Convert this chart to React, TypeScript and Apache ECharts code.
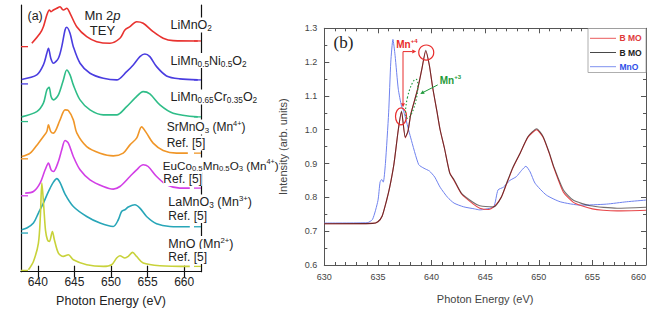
import { useEffect, useRef } from "react";
import * as echarts from "echarts";

const SANS = "'Liberation Sans', Arial, Helvetica, sans-serif";
const SERIF = "'Liberation Serif', 'Times New Roman', serif";

// ---------- Panel (a): Mn 2p TEY spectra ----------
// [photon energy (eV), intensity above the trace's own baseline]
const liMnO2: number[][] = [
  [639.18, 0.34], [640.31, 1.34], [640.76, 2.0], [641.23, 3.17], [641.58, 3.67], [641.81, 3.5],
  [642.13, 3.67], [642.59, 3.84], [643.04, 4.0], [643.31, 3.77], [643.49, 3.67], [643.95, 3.84],
  [644.4, 3.34], [645.32, 2.0], [646.68, 1.0], [648.05, 0.5], [649.86, 0.34], [651.22, 0.84],
  [651.9, 1.67], [652.59, 2.0], [653.5, 2.5], [654.4, 2.34], [655.76, 1.5], [657.13, 0.84],
  [658.49, 0.6], [661.86, 0.57],
];
const liMnNiO2: number[][] = [
  [637.79, 0.45], [639.86, 0.9], [640.76, 1.9], [641.23, 3.07], [641.45, 3.57], [641.77, 2.57],
  [642.13, 2.07], [642.81, 2.57], [643.27, 3.73], [643.72, 5.4], [643.95, 5.67], [644.4, 5.07],
  [644.85, 3.73], [645.77, 2.07], [647.13, 1.07], [648.95, 0.57], [650.77, 0.4], [652.14, 1.23],
  [653.04, 1.9], [653.95, 2.73], [654.63, 3.0], [655.31, 2.73], [656.23, 1.73], [657.59, 0.8],
  [659.4, 0.5], [661.86, 0.4],
];
const liMnCrO2: number[][] = [
  [637.79, 0.47], [639.86, 1.0], [640.76, 1.84], [641.23, 3.17], [641.54, 3.44], [641.81, 2.5],
  [642.13, 2.17], [642.81, 2.67], [643.49, 4.17], [643.95, 5.17], [644.4, 4.67], [644.85, 3.67],
  [645.77, 2.17], [647.13, 1.17], [648.95, 0.67], [650.77, 0.67], [652.14, 1.5], [653.27, 2.34],
  [654.4, 3.0], [655.31, 2.77], [656.68, 1.67], [658.49, 0.84], [661.86, 0.47],
];
const srMnO3: number[][] = [
  [637.79, 0.23], [638.95, 0.57], [640.08, 1.57], [640.76, 2.23], [641.23, 2.73], [641.45, 3.4],
  [641.77, 2.73], [642.13, 2.57], [643.04, 3.9], [643.72, 4.9], [644.17, 4.83], [644.85, 3.9],
  [645.32, 2.6], [646.68, 1.23], [648.5, 0.57], [650.31, 0.3], [651.67, 0.57], [652.59, 1.4],
  [653.5, 2.07], [654.18, 3.2], [654.86, 2.57], [655.76, 1.57], [657.13, 0.83], [658.95, 0.57],
  [660.5, 0.57],
];
const euCoMnO3: number[][] = [
  [638.27, 0.27], [639.4, 0.43], [640.31, 1.27], [641.0, 2.6], [641.45, 3.27], [641.81, 2.6],
  [642.13, 2.43], [642.81, 3.43], [643.27, 4.6], [643.72, 5.53], [644.17, 5.27], [644.85, 3.93],
  [645.77, 2.6], [647.13, 1.6], [648.95, 0.93], [650.31, 0.67], [651.22, 0.93], [652.59, 1.93],
  [653.5, 2.6], [654.4, 3.1], [655.08, 2.93], [656.23, 1.93], [657.59, 1.1], [659.4, 0.77],
  [660.77, 0.77],
];
const laMnO3: number[][] = [
  [637.79, 0.33], [638.5, 0.5], [639.4, 1.0], [640.08, 2.0], [640.76, 3.0], [641.23, 3.8],
  [641.68, 4.5], [642.13, 5.1], [642.59, 5.45], [643.04, 5.05], [643.72, 3.9], [644.85, 2.66],
  [646.68, 1.66], [648.5, 1.0], [650.31, 0.66], [651.0, 1.33], [651.45, 2.16], [651.9, 2.33],
  [652.36, 2.6], [653.27, 2.83], [653.95, 2.5], [654.86, 1.66], [656.23, 0.93], [658.04, 0.66],
  [660.77, 0.63],
];
const mnO_a: number[][] = [
  [638.72, 0.07], [639.4, 0.9], [640.08, 2.74], [640.35, 5.5], [640.55, 8.74], [640.8, 6.5],
  [641.05, 4.0], [641.31, 3.07], [641.58, 2.9], [641.99, 3.9], [642.26, 3.07], [642.81, 1.74],
  [643.49, 1.4], [644.17, 1.57], [644.85, 1.07], [646.68, 0.57], [648.95, 0.4], [650.09, 0.57],
  [650.77, 1.24], [651.22, 1.47], [651.9, 1.24], [652.36, 1.4], [652.95, 1.8], [653.5, 1.4],
  [654.4, 0.74], [656.68, 0.47], [660.77, 0.4],
];

const tracesA = [liMnO2, liMnNiO2, liMnCrO2, srMnO3, euCoMnO3, laMnO3, mnO_a];
const traceNamesA = [
  "LiMnO2", "LiMn0.5Ni0.5O2", "LiMn0.65Cr0.35O2", "SrMnO3", "EuCo0.5Mn0.5O3", "LaMnO3", "MnO",
];
const baselinesA = [22.53, 18.8, 15.03, 11.3, 7.6, 3.87, 0.13];
const colorsA = ["#e8322f", "#4a3de0", "#2fbd88", "#f09628", "#d23fe6", "#28a6b8", "#c8d23a"];
const energyTicksA = [640, 645, 650, 655, 660];

// ---------- Panel (b): BMO vs MnO ----------
const bmoRed: number[][] = [
  [630, 0.722], [634.5, 0.723], [635.0, 0.728], [635.4, 0.745], [635.8, 0.79], [636.1, 0.83],
  [636.5, 0.9], [636.9, 1.0], [637.2, 1.053], [637.55, 0.976], [637.8, 0.995], [638.06, 1.045],
  [638.7, 1.12], [639.1, 1.18], [639.46, 1.232], [639.8, 1.19], [640.1, 1.125], [640.5, 1.055],
  [640.8, 1.0], [641.2, 0.946], [641.7, 0.873], [642.1, 0.85], [642.8, 0.81], [643.9, 0.78],
  [644.5, 0.768], [645.3, 0.764], [646.0, 0.778], [646.5, 0.8], [647.0, 0.84], [647.6, 0.888],
  [648.25, 0.93], [649.0, 0.978], [649.8, 1.0], [650.4, 0.978], [651.0, 0.928], [651.4, 0.888],
  [652.3, 0.815], [653.2, 0.786], [654.0, 0.775], [655.0, 0.766], [656.0, 0.762], [657.3, 0.76],
  [660, 0.762],
];
const bmoBlack: number[][] = [
  [630, 0.722], [634.5, 0.723], [635.0, 0.728], [635.4, 0.745], [635.8, 0.79], [636.1, 0.83],
  [636.5, 0.9], [636.9, 1.0], [637.2, 1.055], [637.55, 0.978], [637.8, 0.995], [638.06, 1.045],
  [638.7, 1.119], [639.1, 1.18], [639.46, 1.235], [639.8, 1.19], [640.1, 1.127], [640.5, 1.055],
  [640.8, 1.0], [641.2, 0.946], [641.7, 0.871], [642.1, 0.852], [642.8, 0.812], [643.9, 0.785],
  [644.5, 0.775], [645.8, 0.772], [646.5, 0.8], [647.0, 0.842], [647.6, 0.89], [648.25, 0.93],
  [649.0, 0.98], [649.8, 1.003], [650.4, 0.98], [651.0, 0.93], [651.4, 0.891], [652.3, 0.822],
  [653.2, 0.792], [654.8, 0.775], [657.3, 0.768], [660, 0.771],
];
const mnO_b: number[][] = [
  [630, 0.724], [634.0, 0.725], [634.5, 0.735], [635.0, 0.79], [635.2, 0.845], [635.35, 0.853],
  [635.5, 0.845], [635.7, 0.9], [636.0, 1.05], [636.2, 1.2], [636.4, 1.267], [636.6, 1.22],
  [636.9, 1.12], [637.2, 1.07], [637.4, 1.055], [638.06, 0.976], [638.8, 0.897], [639.3, 0.886],
  [639.8, 0.878], [640.3, 0.86], [640.8, 0.83], [641.5, 0.8], [642.1, 0.783], [643.0, 0.772],
  [644.0, 0.766], [644.5, 0.763], [645.0, 0.765], [645.8, 0.772], [646.2, 0.822], [646.7, 0.83],
  [647.3, 0.85], [647.9, 0.861], [648.4, 0.88], [648.8, 0.892], [649.2, 0.875], [649.65, 0.842],
  [650.7, 0.807], [652.0, 0.787], [653.9, 0.777], [656.3, 0.78], [658.2, 0.787], [660, 0.792],
];
const peakMn4 = [639.46, 1.235];
const shoulderMn4 = [637.2, 1.05];

function arrow(x1: number, y1: number, x2: number, y2: number, color: string) {
  const a = Math.atan2(y2 - y1, x2 - x1);
  const c = Math.cos(a), s = Math.sin(a);
  const L = 4, W = 2;
  const bx = x2 - L * c, by = y2 - L * s;
  return [
    { type: "line", z: 60, shape: { x1, y1, x2: bx, y2: by }, style: { stroke: color, lineWidth: 1 } },
    {
      type: "polygon", z: 60,
      shape: { points: [[x2, y2], [bx - s * W, by + c * W], [bx + s * W, by - c * W]] },
      style: { fill: color },
    },
  ];
}

function richFor(size: number) {
  return {
    n: { fontSize: size, fontFamily: SANS, fill: "#222", lineHeight: 15 },
    s: { fontSize: size * 0.66, fontFamily: SANS, fill: "#222", lineHeight: 4, verticalAlign: "bottom" },
    u: { fontSize: size * 0.62, fontFamily: SANS, fill: "#222", lineHeight: 4, verticalAlign: "top" },
  };
}

const labelsA: [number, number, number, string][] = [
  [170.5, 25, 12.5, "{n|LiMnO}{s|2}"],
  [170.5, 60.5, 12.5, "{n|LiMn}{s|0.5}{n|Ni}{s|0.5}{n|O}{s|2}"],
  [170.5, 97, 12.5, "{n|LiMn}{s|0.65}{n|Cr}{s|0.35}{n|O}{s|2}"],
  [166.7, 127, 12, "{n|SrMnO}{s|3}{n| (Mn}{u|4+}{n|)}"],
  [166.7, 143, 12, "{n|Ref. [5]}"],
  [162.7, 165, 11.7, "{n|EuCo}{s|0.5}{n|Mn}{s|0.5}{n|O}{s|3}{n| (Mn}{u|4+}{n|)}"],
  [163.3, 178.5, 12, "{n|Ref. [5]}"],
  [168.3, 202, 12.5, "{n|LaMnO}{s|3}{n| (Mn}{u|3+}{n|)}"],
  [168.3, 215.5, 12, "{n|Ref. [5]}"],
  [168.3, 243.5, 12.5, "{n|MnO (Mn}{u|2+}{n|)}"],
  [168.3, 256.5, 12, "{n|Ref. [5]}"],
];

function buildGraphics(chart: echarts.ECharts) {
  const g: any[] = [];
  const pa = (x: number, y: number) => chart.convertToPixel({ gridIndex: 0 }, [x, y]) as number[];
  const pb = (x: number, y: number) => chart.convertToPixel({ gridIndex: 1 }, [x, y]) as number[];

  // baseline markers on both sides of panel (a)
  tracesA.forEach((tr, i) => {
    const [lx, ly] = pa(637.7, baselinesA[i]);
    g.push({ type: "line", z: 40, shape: { x1: lx, y1: ly, x2: lx + 7, y2: ly }, style: { stroke: colorsA[i], lineWidth: 1.3 } });
    const last = tr[tr.length - 1][1];
    const [rx, ry] = pa(662.3, baselinesA[i] + last);
    g.push({ type: "line", z: 40, shape: { x1: rx - 7, y1: ry, x2: rx, y2: ry }, style: { stroke: colorsA[i], lineWidth: 1.3 } });
  });

  // panel (a) texts
  g.push({ type: "text", z: 70, style: { x: 27.5, y: 16, text: "(a)", font: `12.5px ${SANS}`, fill: "#222", verticalAlign: "middle" } });
  g.push({
    type: "text", z: 70,
    style: { x: 102.5, y: 15, text: "{n|Mn 2}{i|p}", align: "center", verticalAlign: "middle",
      rich: { n: { fontSize: 13, fontFamily: SANS, fill: "#222" }, i: { fontSize: 13, fontFamily: SANS, fontStyle: "italic", fill: "#222" } } },
  });
  g.push({ type: "text", z: 70, style: { x: 102.5, y: 30, text: "TEY", font: `13px ${SANS}`, fill: "#222", align: "center", verticalAlign: "middle" } });
  labelsA.forEach(([x, y, size, t]) => {
    g.push({
      type: "text", z: 30,
      style: { x, y, text: t, rich: richFor(size), verticalAlign: "middle", backgroundColor: "#fff" },
    });
  });

  // panel (b) texts
  g.push({ type: "text", z: 70, style: { x: 333.5, y: 42.5, text: "(b)", font: `17px ${SERIF}`, fill: "#222", verticalAlign: "middle" } });

  // legend box
  const lx0 = 588, ly0 = 28.5;
  g.push({ type: "rect", z: 55, shape: { x: lx0, y: ly0, width: 58, height: 44 }, style: { fill: "#fff", stroke: "#9a9a9a", lineWidth: 0.8 } });
  const legendRows: [string, string, string][] = [["B MO", "#e8474a", "#e03a3a"], ["B MO", "#333", "#222"], ["MnO", "#7286ee", "#2f4fe8"]];
  legendRows.forEach(([name, lc, tc], i) => {
    const y = 38.3 + i * 14.2;
    g.push({ type: "line", z: 56, shape: { x1: 590, y1: y, x2: 616, y2: y }, style: { stroke: lc, lineWidth: 0.9 } });
    g.push({ type: "text", z: 56, style: { x: 619.5, y, text: name, font: `bold 8.5px ${SANS}`, fill: tc, verticalAlign: "middle" } });
  });

  // Mn+4 / Mn+3 annotations
  const [px, py] = pb(peakMn4[0], peakMn4[1]);
  const [qx, qy] = pb(shoulderMn4[0], shoulderMn4[1]);
  const red = "#e82c2c", green = "#1f9a3a";
  g.push({ type: "circle", z: 60, shape: { cx: px + 0.5, cy: py + 2.3, r: 7.5 }, style: { fill: "none", stroke: red, lineWidth: 1.2 } });
  g.push({ type: "ellipse", z: 60, shape: { cx: qx - 0.5, cy: qy + 3.5, rx: 5.5, ry: 8.5 }, style: { fill: "none", stroke: red, lineWidth: 1.2 } });
  const cx = qx + 1.5, cy = py + 1.3;
  g.push(...arrow(cx, cy, cx, qy - 5.5, red));
  g.push(...arrow(cx, cy, px - 9.5, cy, red));
  g.push({
    type: "text", z: 62,
    style: { x: px - 29.5, y: py - 6, text: "{m|Mn}{u|+4}", verticalAlign: "middle",
      rich: { m: { fontSize: 10, fontWeight: "bold", fontFamily: SANS, fill: red, lineHeight: 12 },
        u: { fontSize: 6, fontWeight: "bold", fontFamily: SANS, fill: red, lineHeight: 4, verticalAlign: "top" } } },
  });
  g.push({
    type: "ellipse", z: 60, x: px - 14, y: py + 48.5, rotation: -0.22,
    shape: { cx: 0, cy: 0, rx: 4.5, ry: 20 },
    style: { fill: "none", stroke: green, lineWidth: 1.1, lineDash: [1.5, 2] },
  });
  g.push(...arrow(px + 12, py + 34.6, px - 5.5, py + 43.6, green));
  g.push({
    type: "text", z: 62,
    style: { x: px + 14, y: py + 30, text: "{m|Mn}{u|+3}", verticalAlign: "middle",
      rich: { m: { fontSize: 10, fontWeight: "bold", fontFamily: SANS, fill: green, lineHeight: 12 },
        u: { fontSize: 6, fontWeight: "bold", fontFamily: SANS, fill: green, lineHeight: 4, verticalAlign: "top" } } },
  });
  return g;
}

export default function App() {
  const ref = useRef<HTMLDivElement>(null);
  useEffect(() => {
    if (!ref.current) return;
    const chart = echarts.init(ref.current, null, { renderer: "svg" });
    const axisA = { color: "#111", width: 1.2 };
    const axisB = { color: "#555", width: 1 };
    const seriesA = tracesA.map((tr, i) => ({
      name: traceNamesA[i],
      type: "line",
      xAxisIndex: 0,
      yAxisIndex: 0,
      data: tr.map(([e, v]) => [e, v + baselinesA[i]]),
      symbol: "none",
      smooth: 0.3,
      lineStyle: { color: colorsA[i], width: 1.6 },
      z: 3,
    }));
    chart.setOption({
      animation: false,
      backgroundColor: "#fff",
      grid: [
        { left: 21, top: 5, width: 180, height: 266.7, outerBoundsMode: "none", containLabel: false },
        { left: 324.3, top: 28.3, width: 321.7, height: 236.7, outerBoundsMode: "none", containLabel: false },
      ],
      xAxis: [
        {
          gridIndex: 0, type: "value", min: 637.7, max: 662.3, position: "bottom",
          axisLine: { lineStyle: axisA },
          axisTick: { inside: true, length: 6, customValues: energyTicksA, lineStyle: axisA },
          axisLabel: { customValues: energyTicksA, fontSize: 12, fontFamily: SANS, color: "#222", margin: 4 },
          splitLine: { show: false },
          name: "Photon Energy (eV)", nameLocation: "middle", nameGap: 22.5,
          nameTextStyle: { fontSize: 12.5, fontFamily: SANS, color: "#222" },
        },
        {
          gridIndex: 0, type: "value", min: 637.7, max: 662.3, position: "top",
          axisLine: { lineStyle: axisA },
          axisTick: { inside: true, length: 6, customValues: energyTicksA, lineStyle: axisA },
          axisLabel: { show: false }, splitLine: { show: false },
        },
        {
          gridIndex: 1, type: "value", min: 630, max: 660, interval: 5, position: "bottom",
          axisLine: { lineStyle: axisB },
          axisTick: { inside: true, length: 5, lineStyle: axisB },
          minorTick: { show: true, splitNumber: 5, length: 3, lineStyle: axisB },
          axisLabel: { fontSize: 9, fontFamily: SANS, color: "#444", margin: 7, alignMaxLabel: "right" },
          splitLine: { show: false },
          name: "Photon Energy (eV)", nameLocation: "middle", nameGap: 28,
          nameTextStyle: { fontSize: 11, fontFamily: SANS, color: "#444" },
        },
        {
          gridIndex: 1, type: "value", min: 630, max: 660, interval: 5, position: "top",
          axisLine: { lineStyle: axisB },
          axisTick: { inside: true, length: 5, lineStyle: axisB },
          minorTick: { show: true, splitNumber: 5, length: 3, lineStyle: axisB },
          axisLabel: { show: false }, splitLine: { show: false },
        },
      ],
      yAxis: [
        {
          gridIndex: 0, type: "value", min: 0, max: 26.7, position: "left",
          axisLine: { show: true, lineStyle: axisA }, axisTick: { show: false },
          axisLabel: { show: false }, splitLine: { show: false },
        },
        {
          gridIndex: 0, type: "value", min: 0, max: 26.7, position: "right",
          axisLine: { show: true, lineStyle: axisA }, axisTick: { show: false },
          axisLabel: { show: false }, splitLine: { show: false },
        },
        {
          gridIndex: 1, type: "value", min: 0.6, max: 1.3, interval: 0.1, position: "left",
          axisLine: { show: true, lineStyle: axisB },
          axisTick: { inside: true, length: 5, lineStyle: axisB },
          minorTick: { show: true, splitNumber: 2, length: 3, lineStyle: axisB },
          axisLabel: { fontSize: 9, fontFamily: SANS, color: "#444", margin: 7, formatter: (v: number) => v.toFixed(1) },
          splitLine: { show: false },
          name: "Intensity (arb. units)", nameLocation: "middle", nameGap: 36, nameRotate: 90,
          nameTextStyle: { fontSize: 11, fontFamily: SANS, color: "#444" },
        },
        {
          gridIndex: 1, type: "value", min: 0.6, max: 1.3, interval: 0.1, position: "right",
          axisLine: { show: true, lineStyle: axisB },
          axisTick: { inside: true, length: 5, lineStyle: axisB },
          minorTick: { show: true, splitNumber: 2, length: 3, lineStyle: axisB },
          axisLabel: { show: false }, splitLine: { show: false },
        },
      ],
      series: [
        ...seriesA,
        {
          name: "MnO", type: "line", xAxisIndex: 2, yAxisIndex: 2, data: mnO_b, symbol: "none",
          smooth: 0.2, lineStyle: { color: "#6f82ee", width: 1 }, z: 3,
        },
        {
          name: "B MO", type: "line", xAxisIndex: 2, yAxisIndex: 2, data: bmoRed, symbol: "none",
          smooth: 0.2, lineStyle: { color: "#e8474a", width: 1.1 }, z: 4,
        },
        {
          name: "B MO", type: "line", xAxisIndex: 2, yAxisIndex: 2, data: bmoBlack, symbol: "none",
          smooth: 0.2, lineStyle: { color: "#1a1010", width: 1.1, opacity: 0.6 }, z: 5,
        },
      ],
    });
    chart.setOption({ graphic: buildGraphics(chart) });
    return () => chart.dispose();
  }, []);
  return (
    <div
      ref={ref}
      style={{ position: "fixed", left: 0, top: 0, width: 652, height: 309, background: "#fff" }}
    />
  );
}
